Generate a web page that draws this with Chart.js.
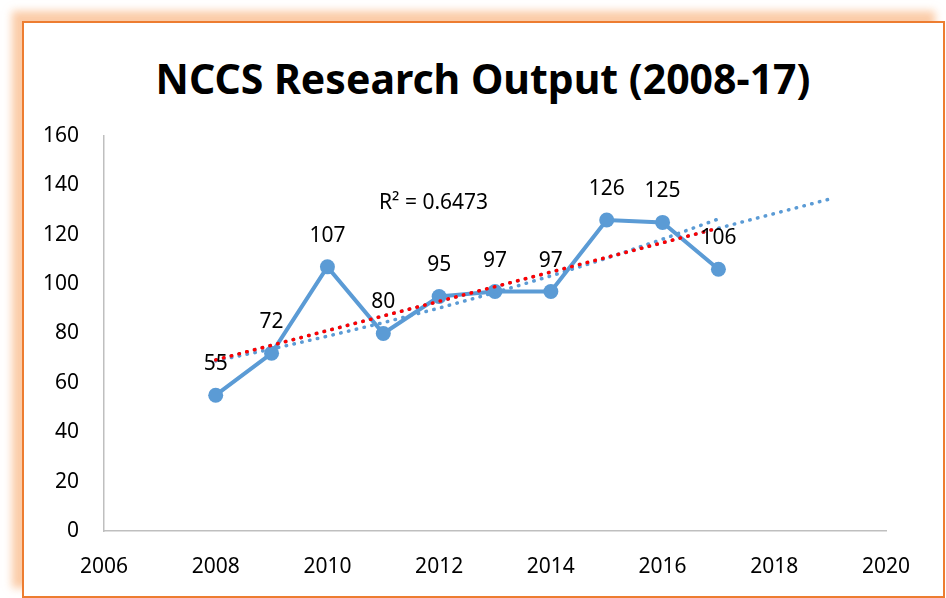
<!DOCTYPE html>
<html>
<head>
<meta charset="utf-8">
<script src="https://cdn.jsdelivr.net/npm/chart.js@4.4.1/dist/chart.umd.min.js"></script>
<style>
  html, body { margin: 0; padding: 0; background: #fff; overflow: hidden; }
  #frame {
    position: absolute; left: 22px; top: 21px; width: 919px; height: 573px;
    border: 2px solid #ED7D31;
    box-shadow: -10px -10px 8px rgba(248, 170, 110, 0.6);
    background: #fff;
  }
  #wrap { position: absolute; left: 0; top: 0; width: 946px; height: 598px; }
  #title {
    position: absolute; left: 0; top: 54px; width: 966px; text-align: center;
    font: bold 41px/48px "Noto Sans", "Open Sans", sans-serif; color: #000;
  }
</style>
</head>
<body>
<div id="frame"></div>
<div id="title">NCCS Research Output (2008-17)</div>
<div id="wrap"><canvas id="chart" width="946" height="598"></canvas></div>
<script>
// chart data
const years = [2008, 2009, 2010, 2011, 2012, 2013, 2014, 2015, 2016, 2017];
const output = [55, 72, 107, 80, 95, 97, 97, 126, 125, 106];

// trendlines
const linearYears = [2008, 2017];
const linearTrend = [69.3, 122.7];
const forecastYears = [2008, 2019];
const forecastTrend = [69.3, 134.5];
const expTrend = [68.9, 73.7, 78.9, 84.4, 90.3, 96.6, 103.3, 110.5, 118.2, 126.4];
const rSquaredText = 'R² = 0.6473';

const xTicks = [2006, 2008, 2010, 2012, 2014, 2016, 2018, 2020];

const FONT = '"Noto Sans", "Open Sans", sans-serif';
const BLUE = '#5B9BD5';

const pairs = (xs, ys) => xs.map((x, i) => ({ x: x, y: ys[i] }));

const dotted = (color) => ({
    borderColor: color,
    borderWidth: 3.5,
    borderDash: [0.5, 7.5],
    borderCapStyle: 'round',
    pointRadius: 0,
    fill: false,
    tension: 0
});

// value labels above markers + R² text
const labelPlugin = {
    id: 'labels',
    afterDatasetsDraw(chart) {
        const ctx = chart.ctx;
        const meta = chart.getDatasetMeta(3);
        ctx.save();
        ctx.fillStyle = '#000';
        ctx.font = '21px ' + FONT;
        ctx.textAlign = 'center';
        ctx.textBaseline = 'middle';
        meta.data.forEach((pt, i) => {
            ctx.fillText(String(output[i]), pt.x, pt.y - 31);
        });
        const xs = chart.scales.x, ys = chart.scales.y;
        ctx.fillText(rSquaredText, xs.getPixelForValue(2011.9), ys.getPixelForValue(133));
        ctx.restore();
    }
};

new Chart(document.getElementById('chart'), {
    type: 'line',
    data: {
        datasets: [
            Object.assign({ data: pairs(linearYears, linearTrend), order: 0 }, dotted('#FF0000')),
            Object.assign({ data: pairs(years, expTrend), order: 1 }, dotted(BLUE)),
            Object.assign({ data: pairs(forecastYears, forecastTrend), order: 2 }, dotted(BLUE)),
            {
                data: pairs(years, output),
                order: 3,
                borderColor: BLUE,
                backgroundColor: BLUE,
                borderWidth: 4,
                pointRadius: 7.5,
                pointBorderWidth: 0,
                pointBackgroundColor: BLUE,
                tension: 0
            }
        ]
    },
    options: {
        responsive: false,
        animation: false,
        events: [],
        layout: { padding: { left: 0, right: 60, top: 136, bottom: 19 } },
        plugins: {
            legend: { display: false },
            tooltip: { enabled: false },
            title: { display: false }
        },
        scales: {
            x: {
                type: 'linear',
                min: 2006,
                max: 2020,
                afterBuildTicks: (s) => { s.ticks = xTicks.map(v => ({ value: v })); },
                afterFit: (s) => { s.height = 48; },
                grid: { display: false },
                border: { display: true, color: '#BFBFBF', width: 1.5 },
                ticks: {
                    padding: 15,
                    color: '#000',
                    font: { family: FONT, size: 21 },
                    callback: (v) => String(v),
                    maxRotation: 0
                }
            },
            y: {
                min: 0,
                max: 160,
                afterFit: (s) => { s.width = 104; },
                grid: { display: false },
                border: { display: true, color: '#BFBFBF', width: 1.5 },
                ticks: {
                    stepSize: 20,
                    padding: 17,
                    color: '#000',
                    font: { family: FONT, size: 21 }
                }
            }
        }
    },
    plugins: [labelPlugin]
});
</script>
</body>
</html>
